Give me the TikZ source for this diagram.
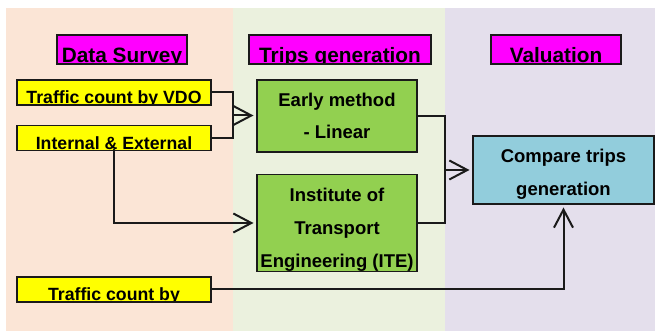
\documentclass[tikz,border=0pt]{standalone}
\usepackage{fontspec}
\setmainfont{Liberation Sans}
\usetikzlibrary{arrows.meta}
\definecolor{peach}{HTML}{FBE5D6}
\definecolor{palegreen}{HTML}{EBF1DE}
\definecolor{lavender}{HTML}{E4DFEC}
\definecolor{hdr}{HTML}{FF00FF}
\definecolor{ylw}{HTML}{FFFF00}
\definecolor{grn}{HTML}{92D050}
\definecolor{blu}{HTML}{92CDDC}
\definecolor{edge}{HTML}{1A1A1A}
\tikzset{
  box/.style={draw=edge, line width=1.2pt, inner sep=0pt, outer sep=0pt, align=center},
  hdrbox/.style={box, fill=hdr, minimum height=29pt, font=\bfseries\fontsize{20.8}{24}\selectfont},
  ybox/.style={box, fill=ylw, minimum width=194pt, minimum height=25pt, font=\bfseries\fontsize{17.7}{22}\selectfont},
  gbox/.style={box, fill=grn, minimum width=160pt, font=\bfseries\fontsize{18.5}{33}\selectfont},
  bbox/.style={box, fill=blu, minimum width=181pt, minimum height=68pt, font=\bfseries\fontsize{18.5}{33}\selectfont},
  cliptext/.style={path picture={\node[anchor=base, inner sep=0pt] at ([yshift=1.2pt]path picture bounding box.south) {#1};}},
  conn/.style={line width=2pt, edge, line cap=rect, -{Straight Barb[length=18pt,width=19pt,line width=2pt]}, shorten >=3.5pt},
  seg/.style={line width=2pt, edge}
}
\begin{document}
\begin{tikzpicture}[x=1pt,y=-1pt]
\useasboundingbox (0,0) rectangle (657,331);
% panels
\fill[peach] (6,8) rectangle (233,331);
\fill[palegreen] (233,8) rectangle (445,331);
\fill[lavender] (445,8) rectangle (655,331);
% headers
\node[hdrbox, minimum width=130pt, cliptext={Data Survey}] (h1) at (122,49.5) {};
\node[hdrbox, minimum width=182pt, cliptext={Trips generation}] (h2) at (340,49.5) {};
\node[hdrbox, minimum width=130pt, cliptext={Valuation}] (h3) at (556,49.5) {};
% yellow boxes
\node[ybox, cliptext={Traffic count by VDO}] (vdo) at (114,92.5) {};
\node[ybox, cliptext={Internal \& External}] (ie) at (114,138) {};
\node[ybox, cliptext={Traffic count by}] (tcb) at (114,289.5) {};
% green boxes
\node[gbox, minimum height=72pt] (early) at (337,116) {Early method\\[-1pt]- Linear};
\node[gbox, minimum height=96pt] (ite) at (337,223) {\rule{0pt}{27pt}Institute of\\Transport\\Engineering (ITE)};
% blue box
\node[bbox] (cmp) at (563.5,170) {\rule{0pt}{21pt}Compare trips\\generation};
% connectors
\coordinate (j1) at (233,115.5);
\coordinate (j2) at (445,170);
\draw[seg] (vdo.east) -| (j1);
\draw[seg] (ie.east) -| (j1);
\draw[conn] (j1) -- (early.west |- j1);
\draw[conn] (ie.south) |- (ite.west);
\draw[seg] (early.east) -| (j2);
\draw[seg] (ite.east) -| (j2);
\draw[conn] (j2) -- (cmp.west);
\draw[conn] (tcb.east) -| (cmp.south);
\end{tikzpicture}
\end{document}
